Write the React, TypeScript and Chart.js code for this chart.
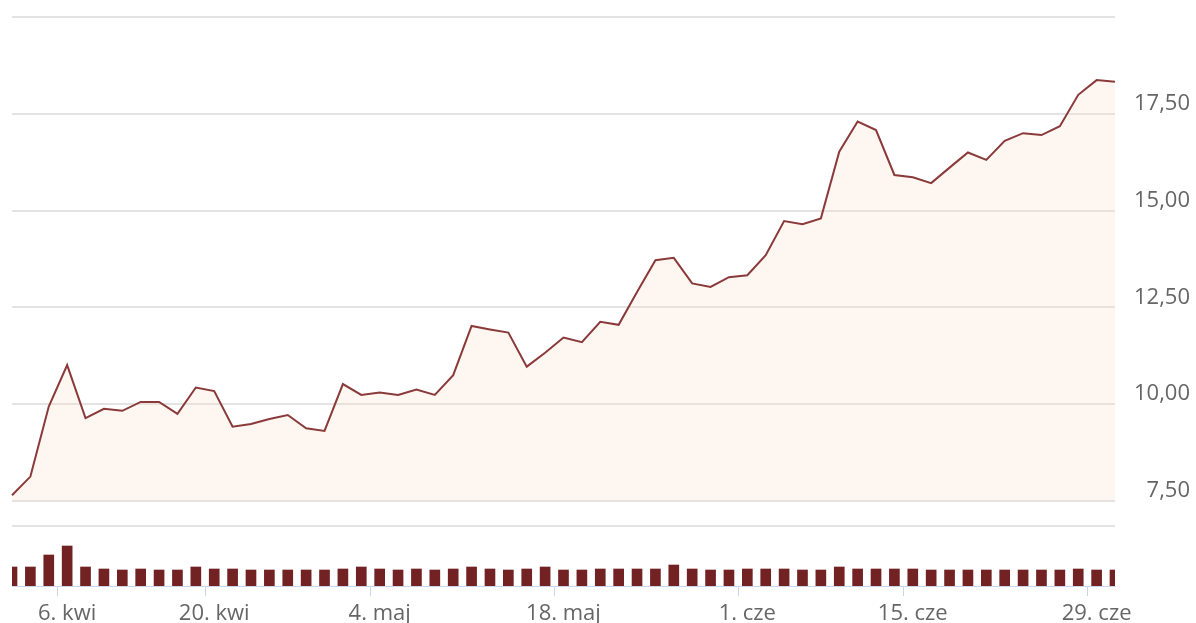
import React, { useEffect, useRef } from "react";
import { Chart, registerables } from "chart.js";

Chart.register(...registerables);

// Trading days (2020)
const dates: string[] = [
  "2020-04-01", "2020-04-02", "2020-04-03", "2020-04-06", "2020-04-07", "2020-04-08", "2020-04-09",
  "2020-04-14", "2020-04-15", "2020-04-16", "2020-04-17", "2020-04-20", "2020-04-21", "2020-04-22",
  "2020-04-23", "2020-04-24", "2020-04-27", "2020-04-28", "2020-04-29", "2020-04-30",
  "2020-05-04", "2020-05-05", "2020-05-06", "2020-05-07", "2020-05-08", "2020-05-11", "2020-05-12",
  "2020-05-13", "2020-05-14", "2020-05-15", "2020-05-18", "2020-05-19", "2020-05-20", "2020-05-21",
  "2020-05-22", "2020-05-25", "2020-05-26", "2020-05-27", "2020-05-28", "2020-05-29",
  "2020-06-01", "2020-06-02", "2020-06-03", "2020-06-04", "2020-06-05", "2020-06-08", "2020-06-09",
  "2020-06-10", "2020-06-12", "2020-06-15", "2020-06-16", "2020-06-17", "2020-06-18", "2020-06-19",
  "2020-06-22", "2020-06-23", "2020-06-24", "2020-06-25", "2020-06-26", "2020-06-29", "2020-06-30",
];

const prices: number[] = [
  7.65, 8.13, 9.94, 11.01, 9.64, 9.88, 9.83, 10.06, 10.06, 9.75,
  10.43, 10.34, 9.42, 9.49, 9.62, 9.72, 9.38, 9.31, 10.52, 10.24,
  10.3, 10.24, 10.38, 10.24, 10.75, 12.02, 11.93, 11.85, 10.97, 11.33,
  11.72, 11.6, 12.13, 12.05, 12.9, 13.72, 13.78, 13.12, 13.03, 13.28,
  13.33, 13.85, 14.73, 14.65, 14.8, 16.52, 17.3, 17.08, 15.92, 15.86,
  15.71, 16.11, 16.5, 16.31, 16.8, 17.0, 16.95, 17.18, 17.99, 18.37,
  18.33,
];

const volumes: number[] = [
  190, 190, 310, 400, 190, 170, 160, 170, 160, 160,
  190, 170, 170, 160, 160, 160, 160, 160, 170, 190,
  170, 160, 170, 160, 170, 190, 170, 160, 170, 190,
  160, 160, 170, 170, 170, 170, 210, 170, 160, 160,
  170, 170, 170, 160, 160, 190, 170, 170, 170, 170,
  160, 160, 160, 160, 160, 160, 160, 160, 170, 160,
  160,
];

const tickDates: string[] = ["2020-04-06", "2020-04-20", "2020-05-04", "2020-05-18", "2020-06-01", "2020-06-15", "2020-06-29"];
const tickLabels: string[] = ["6. kwi", "20. kwi", "4. maj", "18. maj", "1. cze", "15. cze", "29. cze"];

const priceTicks: number[] = [7.5, 10, 12.5, 15, 17.5, 20];
const volumePaneMax = 600;

// layout (pixels)
const W = 1196;
const H = 623;
const AREA_TOP = 17;
const PRICE_BOTTOM = 501;
const VOL_TOP = 526;
const AREA_BOTTOM = 586;
const AREA_LEFT = 12;
const AREA_RIGHT = 1115;
const LABEL_RIGHT = 1190;

export default function App() {
  const ref = useRef<HTMLCanvasElement | null>(null);

  useEffect(() => {
    if (!ref.current) return;
    const pMin = priceTicks[0];
    const pMax = priceTicks[priceTicks.length - 1];
    const pxPerUnit = (PRICE_BOTTOM - AREA_TOP) / (pMax - pMin);
    const yMin = pMin - (AREA_BOTTOM - PRICE_BOTTOM) / pxPerUnit;
    const sepValue = pMin - (VOL_TOP - PRICE_BOTTOM) / pxPerUnit;
    const volMax = volumePaneMax * (AREA_BOTTOM - AREA_TOP) / (AREA_BOTTOM - VOL_TOP);
    const tickIdx = tickDates.map((d) => dates.indexOf(d));
    const font = { family: "'Open Sans', sans-serif", size: 22 };

    const chart = new Chart(ref.current, {
      type: "line",
      data: {
        labels: dates,
        datasets: [
          {
            type: "line",
            data: prices,
            yAxisID: "y",
            borderColor: "#8a3a3a",
            borderWidth: 2,
            backgroundColor: "rgba(250, 220, 195, 0.25)",
            fill: { value: pMin },
            pointRadius: 0,
            tension: 0,
            order: 1,
          },
          {
            type: "bar",
            data: volumes,
            yAxisID: "yv",
            backgroundColor: "#722222",
            barThickness: 10,
            order: 2,
          } as any,
        ],
      },
      options: {
        animation: false,
        responsive: false,
        layout: { padding: { left: AREA_LEFT, top: AREA_TOP, right: W - LABEL_RIGHT, bottom: 0 } },
        plugins: { legend: { display: false }, tooltip: { enabled: false } },
        scales: {
          x: {
            type: "category",
            offset: false,
            grid: {
              drawOnChartArea: false,
              drawTicks: true,
              tickLength: 10,
              tickWidth: 1,
              tickColor: (ctx: any) => (tickIdx.includes(ctx.index) ? "#ccd6eb" : "rgba(0,0,0,0)"),
            },
            border: { display: true, color: "#ccd6eb", width: 1 },
            ticks: {
              autoSkip: false,
              maxRotation: 0,
              minRotation: 0,
              padding: 5,
              color: "#666666",
              font,
              callback: (_v: any, i: number) => {
                const k = tickIdx.indexOf(i);
                return k >= 0 ? tickLabels[k] : "";
              },
            },
            afterFit: (s: any) => {
              s.height = H - AREA_BOTTOM;
              s.paddingLeft = 0;
              s.paddingRight = 0;
            },
          },
          y: {
            position: "right",
            min: yMin,
            max: pMax,
            afterBuildTicks: (s: any) => {
              s.ticks = [{ value: sepValue }, ...priceTicks.map((v) => ({ value: v }))];
            },
            grid: { color: "#e3e3e3", lineWidth: 2, drawTicks: false },
            border: { display: false },
            ticks: {
              crossAlign: "far",
              padding: 10,
              labelOffset: -10,
              color: "#666666",
              font,
              callback: (v: any) => {
                const n = Number(v);
                if (Math.abs(n - sepValue) < 1e-6 || n === pMax) return "";
                return n.toFixed(2).replace(".", ",");
              },
            },
            afterFit: (s: any) => {
              s.width = LABEL_RIGHT - AREA_RIGHT;
              s.paddingTop = 0;
              s.paddingBottom = 0;
            },
          },
          yv: {
            display: false,
            min: 0,
            max: volMax,
          },
        },
      },
    });
    return () => chart.destroy();
  }, []);

  return (
    <div style={{ position: "absolute", left: 0, top: 0, width: W, height: H, background: "#fff" }}>
      <canvas ref={ref} width={W} height={H} style={{ display: "block" }} />
    </div>
  );
}
